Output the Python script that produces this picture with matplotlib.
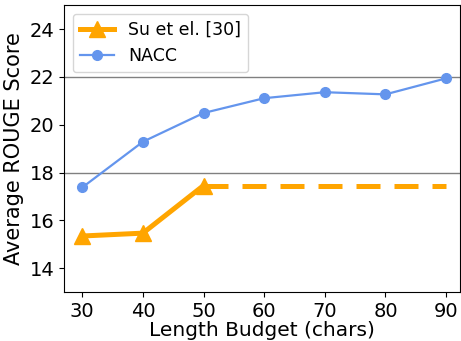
import matplotlib
matplotlib.use("Agg")
import matplotlib.pyplot as plt

budgets = [30, 40, 50, 60, 70, 80, 90]
nacc = [17.38, 19.29, 20.49, 21.11, 21.36, 21.27, 21.94]
su_budgets = [30, 40, 50]
su_scores = [15.35, 15.47, 17.46]

fig = plt.figure(figsize=(4.61, 3.41), dpi=100)
ax = fig.add_axes([0.139, 0.143, 0.859, 0.842])

ax.axhline(18, color="gray", linewidth=1, zorder=0)
ax.axhline(22, color="gray", linewidth=1, zorder=0)

ax.plot(su_budgets, su_scores, color="orange", linewidth=3.6, marker="^",
        markersize=11, label="Su et el. [30]")
ax.plot([su_budgets[-1], budgets[-1]], [su_scores[-1], su_scores[-1]],
        color="orange", linewidth=3.6, linestyle="--", dashes=(4.8, 2.8))
ax.plot(budgets, nacc, color="cornflowerblue", linewidth=1.6, marker="o",
        markersize=7, label="NACC")

ax.set_xlim(27, 92.3)
ax.set_ylim(13, 25)
ax.set_xticks(budgets)
ax.set_yticks([14, 16, 18, 20, 22, 24])
ax.tick_params(labelsize=14)
ax.set_xlabel("Length Budget (chars)", fontsize=14.5, labelpad=0)
ax.set_ylabel("Average ROUGE Score", fontsize=15)
ax.legend(loc="upper left", fontsize=12.5)

fig.savefig("out.png", dpi=100)
